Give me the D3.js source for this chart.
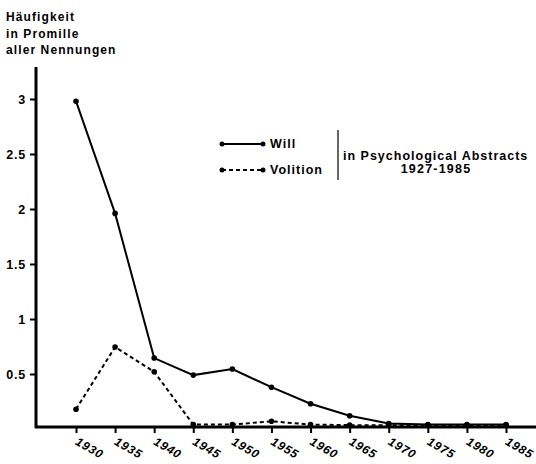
<!DOCTYPE html>
<html>
<head>
<meta charset="utf-8">
<script src="https://cdn.jsdelivr.net/npm/d3@7"></script>
<style>
  body { margin: 0; background: #fff; }
  svg { display: block; font-family: "Liberation Sans", Arial, sans-serif; font-weight: bold; }
</style>
</head>
<body>
<svg id="canvas" width="536" height="464"></svg>
<script>
// data
var years = [1930, 1935, 1940, 1945, 1950, 1955, 1960, 1965, 1970, 1975, 1980, 1985];
var will = [2.98, 1.96, 0.645, 0.49, 0.545, 0.38, 0.23, 0.12, 0.05, 0.04, 0.04, 0.04];
var volition = [0.18, 0.745, 0.52, 0.04, 0.04, 0.07, 0.04, 0.035, 0.035, 0.035, 0.035, 0.035];
var yTicks = [0.5, 1, 1.5, 2, 2.5, 3];
var titleLines = ['Häufigkeit', 'in Promille', 'aller Nennungen'];

var svg = d3.select('#canvas');

var x = d3.scaleLinear().domain([1930, 1985]).range([76, 506]);
var y = d3.scaleLinear().domain([0, 3]).range([429, 99]);

// ---------------------------------------------------------------- axes
var axisY = svg.append('g').attr('transform', 'translate(36,0)')
  .call(d3.axisLeft(y).tickValues(yTicks).tickSize(6).tickPadding(4).tickFormat(d3.format('')));
axisY.select('.domain').remove();
axisY.selectAll('.tick line').attr('stroke', '#000').attr('stroke-width', 2);
axisY.selectAll('.tick text').attr('font-size', 12.5).attr('font-weight', 'bold')
  .attr('letter-spacing', 0.8).attr('font-family', 'Liberation Sans, Arial, sans-serif');
axisY.append('line').attr('x1', 0).attr('x2', 0).attr('y1', 67).attr('y2', 428)
  .attr('stroke', '#000').attr('stroke-width', 3);

var axisX = svg.append('g').attr('transform', 'translate(0,427)')
  .call(d3.axisBottom(x).tickValues(years).tickSize(6).tickFormat(d3.format('d')));
axisX.select('.domain').remove();
axisX.selectAll('.tick line').attr('stroke', '#000').attr('stroke-width', 2);
axisX.selectAll('.tick text')
  .attr('font-size', 12).attr('font-weight', 'bold').attr('font-style', 'italic')
  .attr('letter-spacing', 0.8)
  .attr('font-family', 'Liberation Sans, Arial, sans-serif')
  .attr('text-anchor', 'start').attr('dy', null).attr('y', 0)
  .attr('transform', 'translate(-2,17) rotate(30)');
axisX.append('line').attr('x1', 35).attr('x2', 536).attr('y1', 0).attr('y2', 0)
  .attr('stroke', '#000').attr('stroke-width', 3);

// ---------------------------------------------------------------- series
var line = d3.line().x((d, i) => x(years[i])).y(d => y(d));

svg.append('path').datum(will).attr('d', line)
  .attr('fill', 'none').attr('stroke', '#000').attr('stroke-width', 2);
svg.append('path').datum(volition).attr('d', line)
  .attr('fill', 'none').attr('stroke', '#000').attr('stroke-width', 2).attr('stroke-dasharray', '4,3');

[will, volition].forEach(s => {
  svg.append('g').selectAll('circle').data(s).join('circle')
    .attr('cx', (d, i) => x(years[i])).attr('cy', d => y(d)).attr('r', 2.8).attr('fill', '#000');
});

// ---------------------------------------------------------------- title
svg.append('g').selectAll('text').data(titleLines).join('text')
  .attr('x', 6).attr('y', (d, i) => 21 + i * 16.5)
  .attr('font-size', 12).attr('letter-spacing', 1.1).text(d => d);

// ---------------------------------------------------------------- legend
var legend = svg.append('g');
var legendItems = [{ name: 'Will', dash: null, ly: 144 }, { name: 'Volition', dash: '4,3', ly: 170 }];
legendItems.forEach(d => {
  legend.append('line').attr('x1', 222).attr('x2', 263).attr('y1', d.ly).attr('y2', d.ly)
    .attr('stroke', '#000').attr('stroke-width', 2).attr('stroke-dasharray', d.dash);
  legend.append('circle').attr('cx', 222).attr('cy', d.ly).attr('r', 2.5);
  legend.append('circle').attr('cx', 263).attr('cy', d.ly).attr('r', 2.5);
  legend.append('text').attr('x', 270).attr('y', d.ly + 4).attr('font-size', 12.5)
    .attr('letter-spacing', 1).text(d.name);
});
legend.append('line').attr('x1', 338).attr('x2', 338).attr('y1', 130).attr('y2', 180)
  .attr('stroke', '#000').attr('stroke-width', 1.2);
legend.append('text').attr('x', 343).attr('y', 160).attr('font-size', 12.5).attr('letter-spacing', 1)
  .text('in Psychological Abstracts');
legend.append('text').attr('x', 436).attr('y', 173).attr('font-size', 12.5).attr('letter-spacing', 1.2)
  .attr('text-anchor', 'middle').text('1927-1985');
</script>
</body>
</html>
